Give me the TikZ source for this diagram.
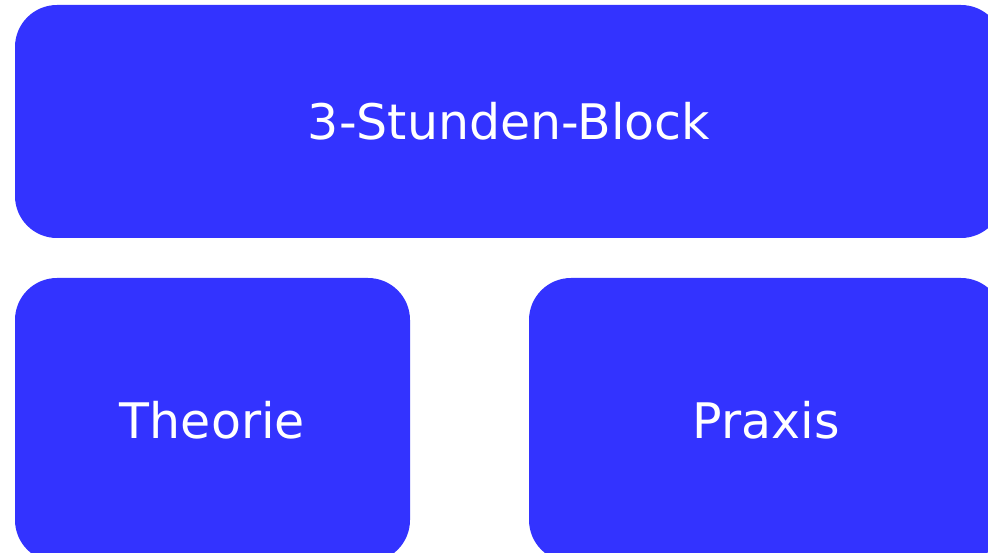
\documentclass[tikz,border=0pt]{standalone}
\usepackage{fontspec}
\setmainfont{DejaVu Sans}
\definecolor{boxblue}{HTML}{3333FF}
\begin{document}
\begin{tikzpicture}[x=1pt,y=1pt,
  blk/.style={fill=boxblue, rounded corners=42pt, text=white, inner sep=0pt,
    font=\fontsize{49}{58}\selectfont, anchor=center}]
\useasboundingbox (0,0) rectangle (988,-553);
\clip (0,0) rectangle (988,-553);
\node[blk, minimum width=988pt, minimum height=233pt] (top) at (509,-121.5) {3-Stunden-Block};
\node[blk, minimum width=395pt, minimum height=284pt] (theo) at (212.5,-420) {Theorie};
\node[blk, minimum width=474pt, minimum height=284pt] (prax) at (766,-420) {Praxis};
\end{tikzpicture}
\end{document}
